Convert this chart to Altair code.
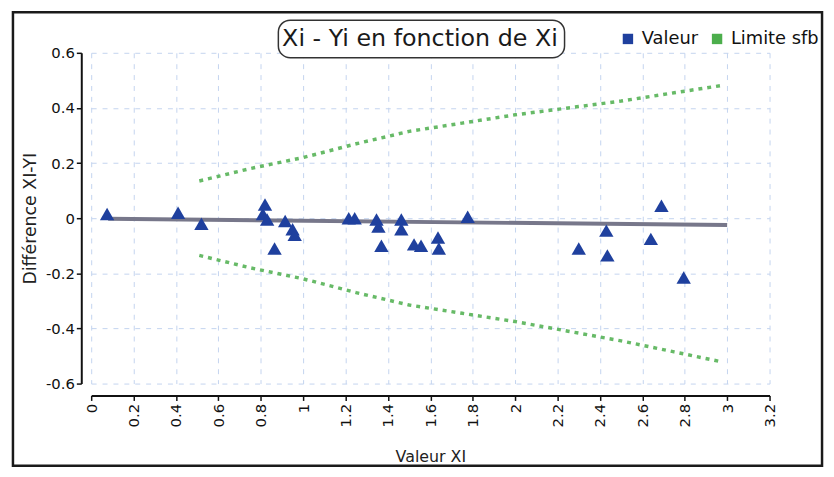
import altair as alt
import pandas as pd

# ---- data ----
xi = [0.075, 0.41, 0.52, 0.81, 0.82, 0.83, 0.865, 0.915, 0.95, 0.96,
      1.215, 1.243, 1.346, 1.355, 1.369, 1.463, 1.463, 1.523, 1.556, 1.636, 1.64, 1.776,
      2.30, 2.43, 2.435, 2.64, 2.69, 2.795]
diff = [0.015, 0.02, -0.02, 0.015, 0.05, -0.005, -0.11, -0.01, -0.04, -0.06,
        0.0, 0.0, -0.005, -0.03, -0.10, -0.005, -0.04, -0.095, -0.10, -0.07, -0.11, 0.005,
        -0.11, -0.045, -0.135, -0.075, 0.045, -0.215]

reg_x = [0.08, 3.0]
reg_y = [-0.002, -0.025]

lim_x = [0.51, 0.75, 1.0, 1.25, 1.5, 1.75, 2.0, 2.25, 2.5, 2.75, 2.98]
lim_up = [0.135, 0.18, 0.22, 0.27, 0.315, 0.345, 0.375, 0.40, 0.425, 0.455, 0.482]
lim_lo = [-0.135, -0.18, -0.22, -0.27, -0.315, -0.345, -0.375, -0.41, -0.445, -0.485, -0.522]

x_ticks = [round(i * 0.2, 1) for i in range(17)]
y_ticks = [0.6, 0.4, 0.2, 0, -0.2, -0.4, -0.6]

series = ["Valeur", "Limite sfb"]
series_colors = ["#1f409e", "#4cae4c"]
title_text = "Xi - Yi en fonction de Xi"

# ---- tables ----
pts = pd.DataFrame({"x": xi, "y": diff, "serie": series[0]})
n = len(lim_x)
lim = pd.DataFrame({
    "x": lim_x + lim_x,
    "y": lim_up + lim_lo,
    "serie": series[1],
    "bound": ["haut"] * n + ["bas"] * n,
})
reg = pd.DataFrame({"x": reg_x, "y": reg_y})

FONT = "DejaVu Sans"

xscale = alt.Scale(domain=[0, 3.2], nice=False, zero=False)
yscale = alt.Scale(domain=[-0.6, 0.6], nice=False, zero=False)
cscale = alt.Scale(domain=series, range=series_colors)

xaxis = alt.Axis(values=x_ticks, title="Valeur XI", labelAngle=270,
                 labelExpr="toString(datum.value)", offset=12,
                 labelFontSize=15, titleFontSize=16, titlePadding=22,
                 tickSize=5, labelPadding=3)
yaxis = alt.Axis(values=y_ticks, title="Différence XI-YI",
                 labelExpr="toString(datum.value)", offset=10,
                 labelFontSize=15, titleFontSize=17.5, titlePadding=6,
                 tickSize=5, labelPadding=2)

X = alt.X("x:Q", scale=xscale, axis=xaxis)
Y = alt.Y("y:Q", scale=yscale, axis=yaxis)

legend = alt.Legend(orient="none", direction="horizontal",
                    legendX=533, legendY=-23,
                    symbolType="square", symbolSize=110,
                    symbolStrokeWidth=0, symbolOpacity=1,
                    labelFontSize=18, labelFont=FONT,
                    labelColor="#111", columnPadding=10,
                    labelOffset=5, padding=0)

regline = alt.Chart(reg).mark_line(color="#77778a", strokeWidth=4).encode(x=X, y=Y)

points = alt.Chart(pts).mark_point(
    shape="triangle-up", filled=True, size=210, opacity=1
).encode(
    x=X, y=Y,
    color=alt.Color("serie:N", scale=cscale, title=None, legend=legend),
)

limits = alt.Chart(lim).mark_line(
    strokeWidth=3.5, strokeDash=[4, 5], opacity=0.85
).encode(
    x=X, y=Y,
    color=alt.Color("serie:N", scale=cscale, legend=None),
    detail="bound:N",
)

one = pd.DataFrame({"label": [title_text]})

frame = alt.Chart(one).mark_rect(
    fillOpacity=0, stroke="#1a1a1a", strokeWidth=2.5
).encode(x=alt.value(-79), x2=alt.value(738), y=alt.value(-41), y2=alt.value(417))

title_box = alt.Chart(one).mark_rect(
    fill="white", stroke="#333333", strokeWidth=1.5, cornerRadius=12
).encode(x=alt.value(189), x2=alt.value(478), y=alt.value(-33), y2=alt.value(5))

title = alt.Chart(one).mark_text(
    font=FONT, fontSize=24, color="#1a1a1a", align="center", baseline="middle"
).encode(text="label:N", x=alt.value(332), y=alt.value(-14))

chart = alt.layer(
    regline, points, limits, frame, title_box, title
).properties(
    width=685, height=334,
    autosize=alt.AutoSizeParams(type="none"),
    padding={"left": 84, "top": 43, "right": 57, "bottom": 84},
).configure_view(
    stroke=None
).configure_axis(
    labelFont=FONT, titleFont=FONT, labelColor="#111", titleColor="#222",
    titleFontWeight="normal", domainColor="#111", domainWidth=2,
    tickColor="#111", tickWidth=1.5,
    grid=True, gridColor="#c3d3ef", gridDash=[5, 6], gridWidth=1,
)

chart.save("out.html", embed_options={"renderer": "svg", "actions": False})
